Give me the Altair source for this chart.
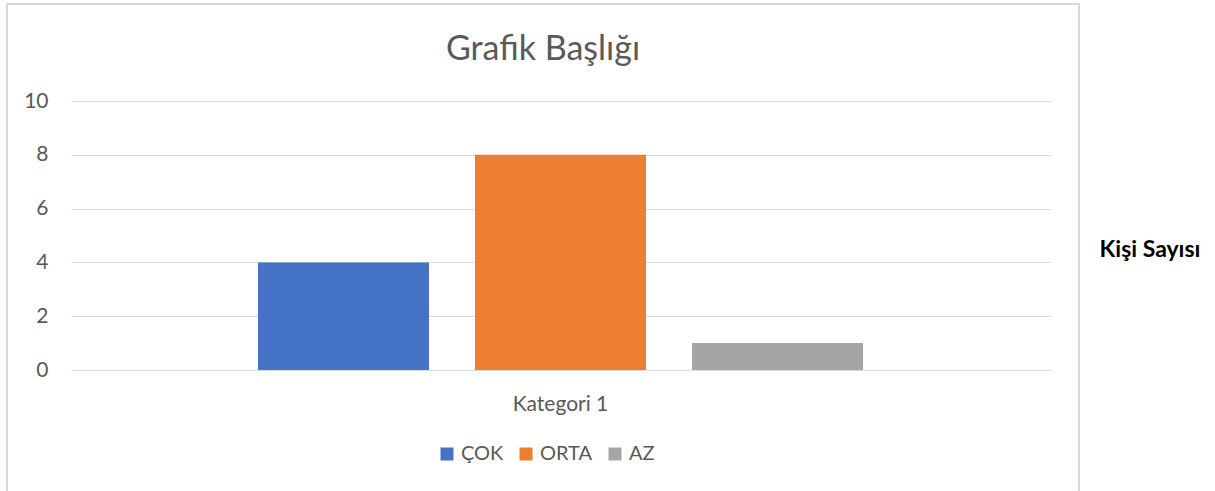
import altair as alt
import pandas as pd

series = ["ÇOK", "ORTA", "AZ"]
values = [4, 8, 1]
category = "Kategori 1"
colors = ["#4472C4", "#ED7D31", "#A5A5A5"]
y_ticks = [0, 2, 4, 6, 8, 10]

df = pd.DataFrame({"Seri": series, "Deger": values, "Kategori": [category] * len(series)})

FONT = "Lato"
W, H = 979, 269
FS = 21

bars = alt.Chart(df).mark_bar().encode(
    x=alt.X("Kategori:N", title=None,
            scale=alt.Scale(paddingInner=0, paddingOuter=0.309),
            axis=alt.Axis(domain=False, ticks=False, grid=False, labelAngle=0, labelFontSize=FS,
                          labelColor="#595959", labelFont=FONT, labelPadding=23)),
    xOffset=alt.XOffset("Seri:N", sort=series,
                        scale=alt.Scale(paddingInner=0.212, paddingOuter=0)),
    y=alt.Y("Deger:Q", title=None,
            scale=alt.Scale(domain=[0, 10]),
            axis=alt.Axis(values=y_ticks, domain=False, ticks=False, labelFontSize=FS,
                          labelColor="#595959", labelFont=FONT, labelPadding=23,
                          gridColor="#D9D9D9", gridWidth=1)),
    color=alt.Color("Seri:N", sort=series,
                    scale=alt.Scale(domain=series, range=colors),
                    legend=alt.Legend(title=None, orient="none", direction="horizontal",
                                      legendX=366, legendY=343, symbolType="square",
                                      symbolSize=169, symbolStrokeWidth=0,
                                      labelFontSize=20, labelColor="#595959", labelFont=FONT,
                                      labelOffset=4, columnPadding=12)),
)

border = alt.Chart(pd.DataFrame({"a": [0]})).mark_rect(
    fill=None, stroke="#D9D9D9", strokeWidth=2
).encode(x=alt.value(-64), x2=alt.value(1008), y=alt.value(-97), y2=alt.value(420))

title = alt.Chart(pd.DataFrame({"t": ["Grafik Başlığı"]})).mark_text(
    fontSize=34, color="#595959", font=FONT, baseline="middle", align="center"
).encode(text="t:N", x=alt.value(472), y=alt.value(-51))

side = alt.Chart(pd.DataFrame({"t": ["Kişi Sayısı"]})).mark_text(
    fontSize=23, color="#000000", font=FONT, fontWeight="bold", baseline="middle", align="center"
).encode(text="t:N", x=alt.value(1079), y=alt.value(149))

chart = alt.layer(border, bars, title, side).properties(
    width=W, height=H,
    background="white",
    autosize=alt.AutoSizeParams(type="none"),
    padding={"left": 71, "top": 101, "right": 165, "bottom": 121},
).configure_view(stroke=None, strokeWidth=0)

chart.save("out.html", embed_options={"renderer": "svg", "actions": False})
